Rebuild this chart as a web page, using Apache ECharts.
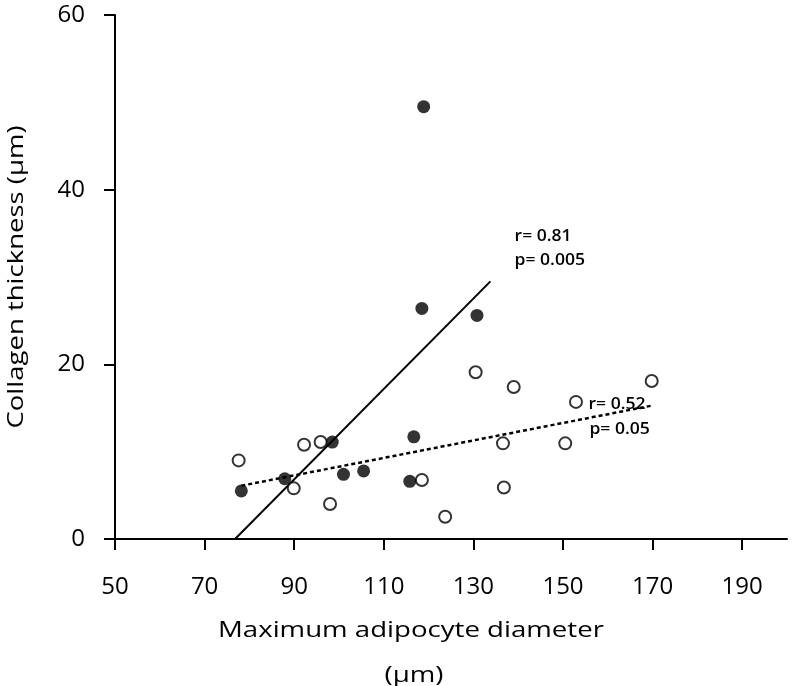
<!DOCTYPE html>
<html>
<head>
<meta charset="utf-8">
<script src="https://cdn.jsdelivr.net/npm/echarts@6/dist/echarts.min.js"></script>
<style>
html,body{margin:0;padding:0;background:#fff;}
#c{width:792px;height:686px;}
</style>
</head>
<body>
<div id="c"></div>
<script>
// Tick labels
const xTicks = [50, 70, 90, 110, 130, 150, 170, 190];
const yTicks = [0, 20, 40, 60];

// Filled circles
const filledX = [78.2, 87.9, 98.5, 101.0, 105.5, 115.8, 116.7, 118.9, 118.5, 130.8];
const filledY = [5.5, 6.9, 11.1, 7.4, 7.8, 6.6, 11.7, 49.5, 26.4, 25.6];

// Open circles
const openX = [77.6, 89.9, 92.2, 95.9, 98.0, 118.5, 123.7, 130.5, 139.0, 136.6, 136.8, 150.5, 152.9, 169.8];
const openY = [9.0, 5.8, 10.8, 11.1, 4.0, 6.75, 2.55, 19.1, 17.4, 10.95, 5.9, 10.95, 15.7, 18.1];

// Regression lines (endpoints)
const solidX = [76.8, 133.8];
const solidY = [0, 29.5];
const dashX = [78.2, 169.6];
const dashY = [6.1, 15.25];

// Annotations (data coordinates of left / middle anchor)
const annText = ['r= 0.81', 'p= 0.005', 'r= 0.52', 'p= 0.05'];
const annX = [139.2, 139.2, 155.7, 155.9];
const annY = [34.7, 31.9, 15.45, 12.6];

// Axis titles
const xTitle = ['Maximum adipocyte diameter', '(µm)'];
const yTitle = 'Collagen thickness (µm)';

const FONT = '"Open Sans", Lato, sans-serif';
const zip = (a, b) => a.map((v, i) => [v, b[i]]);

const cv = document.createElement('canvas').getContext('2d');
function measure(text, font) { cv.font = font; return cv.measureText(text).width; }

const chart = echarts.init(document.getElementById('c'), null, {renderer: 'canvas'});
const option = {
  animation: false,
  backgroundColor: '#fff',
  grid: {left: 115, right: 5, top: 15, bottom: 147, containLabel: false},
  xAxis: {
    type: 'value', min: 50, max: 200, interval: 20,
    splitLine: {show: false},
    axisLine: {show: true, onZero: false, lineStyle: {color: '#000', width: 2}},
    axisTick: {show: true, length: 11, lineStyle: {color: '#000', width: 2}, customValues: xTicks},
    axisLabel: {show: true, margin: 36, color: '#000', fontSize: 24, fontFamily: FONT, customValues: xTicks}
  },
  yAxis: {
    type: 'value', min: 0, max: 60, interval: 20,
    splitLine: {show: false},
    axisLine: {show: true, lineStyle: {color: '#000', width: 2}},
    axisTick: {show: true, length: 11, lineStyle: {color: '#000', width: 2}, customValues: yTicks},
    axisLabel: {show: true, margin: 30, color: '#000', fontSize: 24, fontFamily: FONT, customValues: yTicks}
  },
  series: [
    {
      type: 'line', data: zip(solidX, solidY), symbol: 'none', z: 2,
      lineStyle: {color: '#000', width: 2}
    },
    {
      type: 'line', data: zip(dashX, dashY), symbol: 'none', z: 2,
      lineStyle: {color: '#000', width: 2.5, type: [4, 3]}
    },
    {
      type: 'scatter', data: zip(filledX, filledY), symbol: 'circle', symbolSize: 13, z: 3,
      itemStyle: {color: '#000'}
    },
    {
      type: 'scatter', data: zip(openX, openY), symbol: 'circle', symbolSize: 12, z: 4,
      itemStyle: {color: '#fff', borderColor: '#000', borderWidth: 2}
    }
  ]
};
chart.setOption(option);

const annFont = '600 16px ' + FONT;
const annScale = 57 / measure(annText[0], annFont);
const g = annText.map((t, i) => {
  const p = chart.convertToPixel({gridIndex: 0}, [annX[i], annY[i]]);
  return {
    type: 'text', x: p[0], y: p[1], scaleX: annScale, z: 10,
    style: {text: t, fill: '#000', font: annFont, textAlign: 'left', textVerticalAlign: 'middle'}
  };
});

const titleFont = '22px ' + FONT;
// x-axis title line 1 (target width ~386px, centered at x≈411)
const sx1 = 386 / measure(xTitle[0], titleFont);
g.push({
  type: 'text', x: 411, y: 631, scaleX: sx1, z: 10,
  style: {text: xTitle[0], fill: '#000', font: titleFont, textAlign: 'center', textVerticalAlign: 'middle'}
});
g.push({
  type: 'text', x: 414, y: 676, scaleX: sx1, z: 10,
  style: {text: xTitle[1], fill: '#000', font: titleFont, textAlign: 'center', textVerticalAlign: 'middle'}
});
// y-axis title (target length ~303px, centered at y≈277)
const sy = 303 / measure(yTitle, titleFont);
g.push({
  type: 'text', x: 17, y: 277, rotation: Math.PI / 2, scaleX: sy, z: 10,
  style: {text: yTitle, fill: '#000', font: titleFont, textAlign: 'center', textVerticalAlign: 'middle'}
});
chart.setOption({graphic: g});
</script>
</body>
</html>
